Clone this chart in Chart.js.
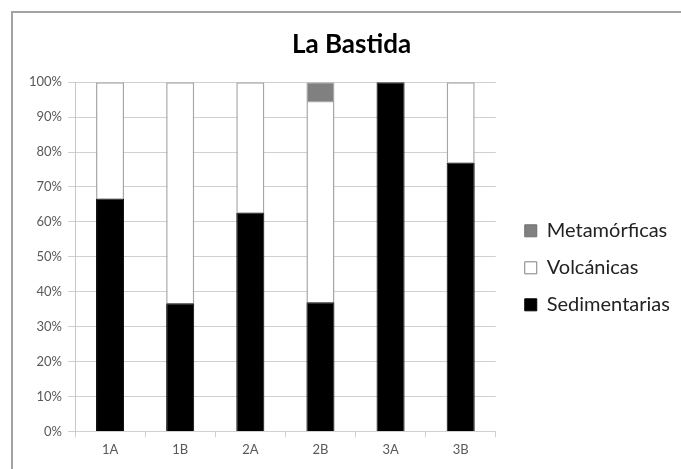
<!DOCTYPE html>
<html>
<head>
<meta charset="utf-8">
<script src="https://cdn.jsdelivr.net/npm/chart.js@4"></script>
<style>
  html, body { margin: 0; padding: 0; background: #ffffff; }
  #wrap { position: relative; width: 681px; height: 469px; }
</style>
</head>
<body>
<div id="wrap"><canvas id="c" width="681" height="469"></canvas></div>
<script>
const categories = ['1A', '1B', '2A', '2B', '3A', '3B'];
const sedimentarias = [66.7, 36.7, 62.7, 37.0, 100, 77.0];
const volcanicas = [33.3, 63.3, 37.3, 57.6, 0, 23.0];
const metamorficas = [0, 0, 0, 5.4, 0, 0];
const yTicks = [0, 10, 20, 30, 40, 50, 60, 70, 80, 90, 100];

const FONT = 'Lato, "Open Sans", sans-serif';

const frame = {
  id: 'frame',
  beforeDraw(chart) {
    const ctx = chart.ctx;
    ctx.save();
    ctx.fillStyle = '#ffffff';
    ctx.fillRect(0, 0, chart.width, chart.height);
    ctx.strokeStyle = '#a3a3a3';
    ctx.lineWidth = 2;
    ctx.beginPath();
    ctx.moveTo(12, chart.height);
    ctx.lineTo(12, 12);
    ctx.lineTo(chart.width, 12);
    ctx.stroke();
    ctx.restore();
  }
};

const boxShift = {
  id: 'boxShift',
  afterLayout(chart) {
    const t = chart.titleBlock;
    if (t) { t.left += 21; t.right += 21; }
    const l = chart.legend;
    if (l) { l.left += 12; l.right += 12; l.top += 22; }
  }
};

new Chart(document.getElementById('c'), {
  type: 'bar',
  data: {
    labels: categories,
    datasets: [
      { label: 'Sedimentarias', data: sedimentarias, backgroundColor: '#000000', borderColor: '#000000', borderWidth: 1 },
      { label: 'Volcánicas', data: volcanicas, backgroundColor: '#ffffff', borderColor: '#a6a6a6', borderWidth: 1.5 },
      { label: 'Metamórficas', data: metamorficas, backgroundColor: '#808080', borderColor: '#a6a6a6', borderWidth: 1 }
    ]
  },
  options: {
    responsive: false,
    animation: false,
    devicePixelRatio: 1,
    layout: { padding: { left: 0, right: 20, top: 0, bottom: 6 } },
    datasets: { bar: { categoryPercentage: 1.0, barPercentage: 0.4 } },
    plugins: {
      title: {
        display: true,
        text: 'La Bastida',
        color: '#000000',
        font: { family: FONT, size: 26, weight: 'bold' },
        padding: { top: 29, bottom: 22 }
      },
      legend: {
        display: true,
        position: 'right',
        fullSize: false,
        reverse: true,
        labels: {
          color: '#222222',
          font: { family: FONT, size: 20 },
          boxWidth: 12,
          boxHeight: 12,
          padding: 17,
          generateLabels(chart) {
            const items = Chart.defaults.plugins.legend.labels.generateLabels(chart);
            items.forEach(it => {
              if (it.text === 'Metamórficas') { it.strokeStyle = '#6e6e6e'; }
              if (it.text === 'Volcánicas') { it.strokeStyle = '#7f7f7f'; }
              it.lineWidth = 1;
            });
            return items;
          }
        }
      },
      tooltip: { enabled: false }
    },
    scales: {
      x: {
        stacked: true,
        grid: { display: true, drawOnChartArea: false, drawTicks: true, tickLength: 6, color: '#d0d0d0', offset: true },
        border: { display: true, color: '#d0d0d0' },
        ticks: { color: '#595959', font: { family: FONT, size: 13 }, padding: 5, maxRotation: 0 }
      },
      y: {
        stacked: true,
        min: 0,
        max: 100,
        afterFit(scale) { scale.width = 75; },
        afterBuildTicks(scale) { scale.ticks = yTicks.map(v => ({ value: v })); },
        grid: { color: '#d0d0d0', tickLength: 7 },
        border: { display: true, color: '#c8c8c8' },
        ticks: { color: '#595959', font: { family: FONT, size: 13 }, padding: 6, callback: v => v + '%' }
      }
    }
  },
  plugins: [frame, boxShift]
});
</script>
</body>
</html>
